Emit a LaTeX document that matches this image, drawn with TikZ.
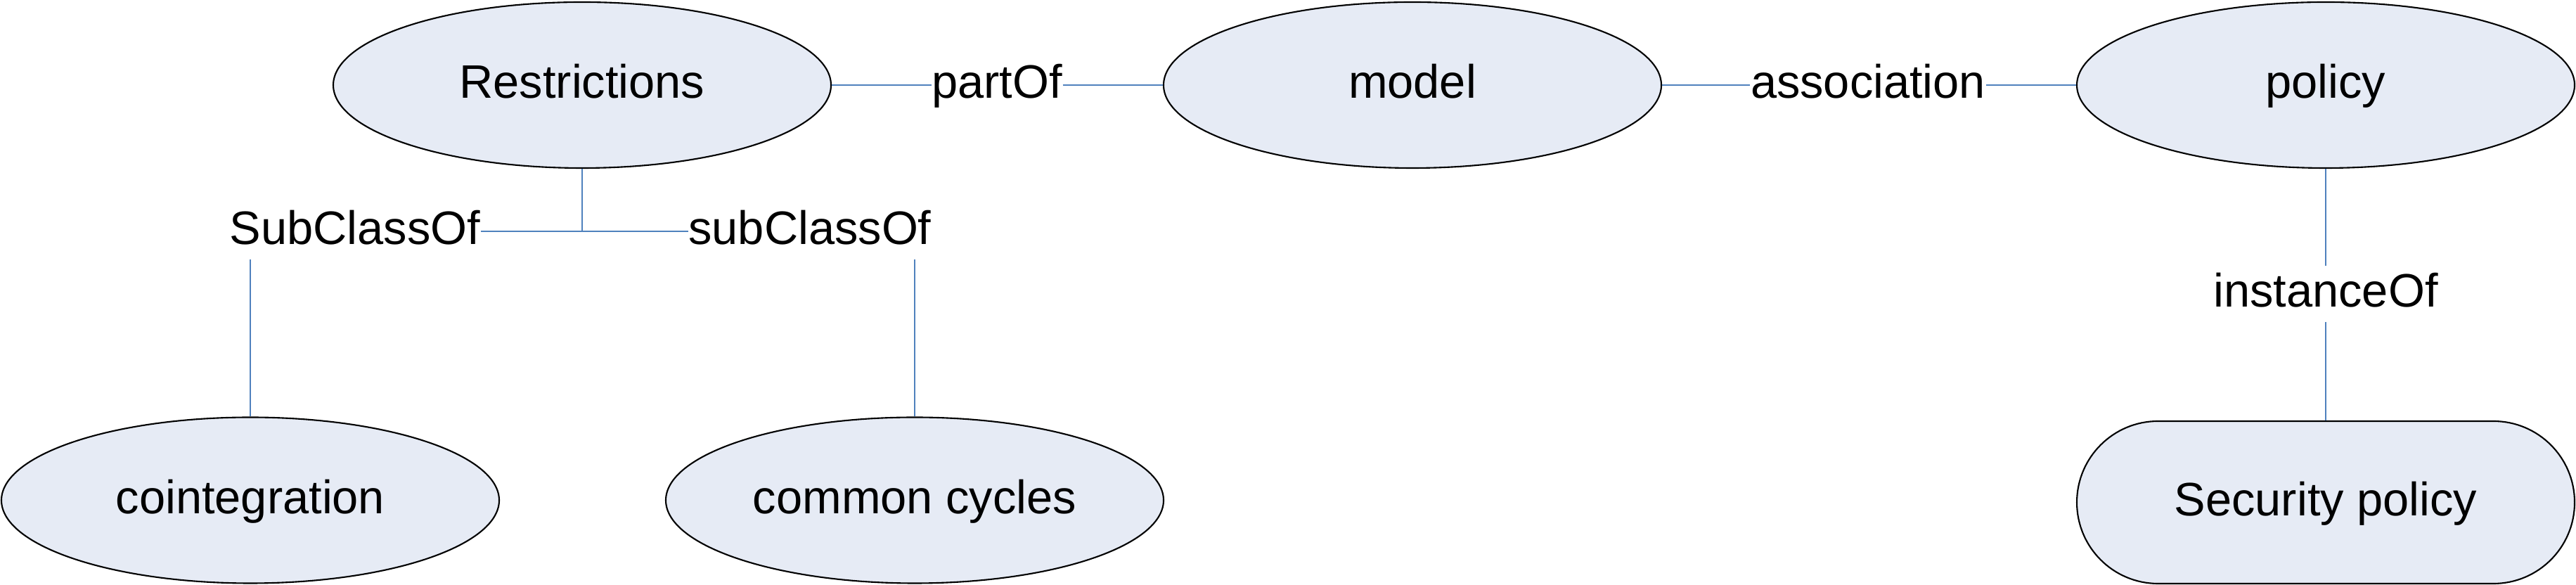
\documentclass[tikz,border=0pt]{standalone}
\usepackage{fontspec}
\setmainfont{Liberation Sans}
\usetikzlibrary{shapes.geometric,shapes.misc}
\definecolor{conceptfill}{RGB}{230,235,245}
\definecolor{relblue}{RGB}{79,129,189}
\begin{document}
\begin{tikzpicture}[
    every node/.style={font=\fontsize{19}{23}\selectfont},
    concept/.style={ellipse, draw=black, line width=0.6pt, fill=conceptfill, minimum width=7.08cm, minimum height=2.36cm, inner sep=0pt, text height=0.5cm, text depth=0.12cm},
    instance/.style={rounded rectangle, draw=black, line width=0.6pt, fill=conceptfill, minimum width=7.08cm, minimum height=2.31cm, inner sep=0pt, text height=0.5cm, text depth=0.12cm},
    rel/.style={inner sep=0pt, text height=0.5cm, text depth=0.12cm},
    link/.style={relblue, line width=0.6pt}
]
    % Ontology of restrictions, model and policy
    \useasboundingbox (0,0) rectangle (36.64,8.32);
    \node[concept] (restr) at (8.28,7.11) {Restrictions};
    \node[concept] (model) at (20.09,7.11) {model};
    \node[concept] (policy) at (33.08,7.11) {policy};
    \node[concept] (coint) at (3.56,1.205) {cointegration};
    \node[concept] (cycles) at (13.01,1.205) {common cycles};
    \node[instance] (secpol) at (33.08,1.175) {Security policy};
    \node[rel] (partof) at (14.18,7.11) {partOf};
    \node[rel] (assoc) at (26.57,7.11) {association};
    \node[rel] (subl) at (5.05,5.03) {SubClassOf};
    \node[rel] (subr) at (11.52,5.03) {subClassOf};
    \node[rel] (inst) at (33.08,4.14) {instanceOf};
    \draw[link] (restr) -- (partof) -- (model);
    \draw[link] (model) -- (assoc) -- (policy);
    \draw[link] (subl) -- (subr);
    \draw[link] (restr.south) -- (restr.south |- subl.east);
    \draw[link, shorten <=0.08cm] (subl.south -| coint.north) -- (coint.north);
    \draw[link, shorten <=0.08cm] (subr.south -| cycles.north) -- (cycles.north);
    \draw[link, shorten >=0.08cm] (policy.south) -- (inst.north);
    \draw[link, shorten <=0.08cm] (inst.south) -- (secpol.north);
\end{tikzpicture}
\end{document}
